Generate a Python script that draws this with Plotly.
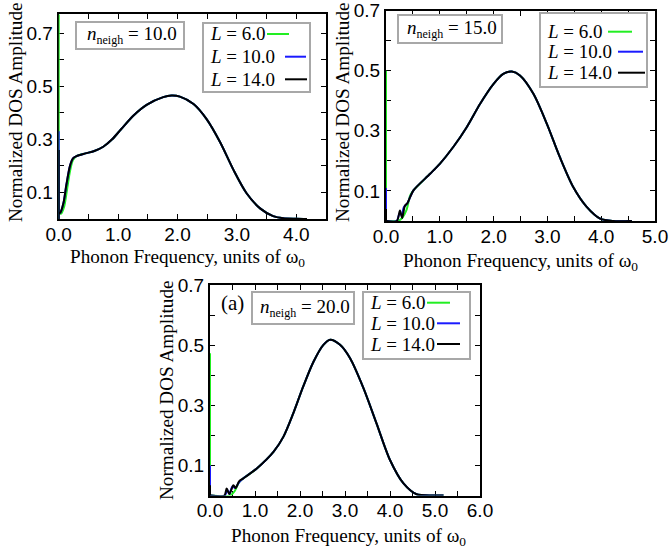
import plotly.graph_objects as go

W, H = 670, 548

L_VALUES = [6.0, 10.0, 14.0]
COLORS = {6.0: "#22ee22", 10.0: "#1a1aff", 14.0: "#000000"}
N_NEIGH = [10.0, 15.0, 20.0]

# ---------------- panel n_neigh = 10 ----------------
p1_spike = {6.0: 0.77, 10.0: 0.33, 14.0: 0.26}
p1_head_x = {6.0: [0.0, 0.04, 0.09, 0.14, 0.19, 0.24],
             10.0: [0.0, 0.03, 0.08, 0.13, 0.19, 0.24],
             14.0: [0.0, 0.03, 0.08, 0.13, 0.19, 0.24]}
p1_head_y = {6.0: [0.02, 0.02, 0.045, 0.11, 0.18, 0.222],
             10.0: [0.02, 0.025, 0.06, 0.13, 0.20, 0.228],
             14.0: [0.02, 0.025, 0.06, 0.13, 0.20, 0.228]}
p1_x = [0.30, 0.45, 0.60, 0.75, 0.90, 1.05, 1.26, 1.48, 1.76, 1.90, 2.04, 2.27,
        2.49, 2.72, 2.94, 3.16, 3.39, 3.61, 3.78, 4.00, 4.18]
p1_y = [0.237, 0.247, 0.256, 0.272, 0.300, 0.338, 0.390, 0.430, 0.459, 0.465,
        0.461, 0.433, 0.376, 0.288, 0.186, 0.098, 0.040, 0.011, 0.003, 0.001, 0.000]

# ---------------- panel n_neigh = 15 ----------------
p2_spike = {6.0: 0.50, 10.0: 0.11, 14.0: 0.04}
p2_head_x = {6.0: [0.0, 0.22, 0.30, 0.38, 0.45],
             10.0: [0.0, 0.20, 0.25, 0.29, 0.33, 0.40, 0.45],
             14.0: [0.0, 0.20, 0.26, 0.30, 0.35, 0.40, 0.45]}
p2_head_y = {6.0: [0.0, 0.0, 0.010, 0.036, 0.085],
             10.0: [0.0, 0.0, 0.025, 0.020, 0.045, 0.060, 0.080],
             14.0: [0.0, 0.0, 0.035, 0.010, 0.050, 0.060, 0.080]}
p2_x = [0.51, 0.82, 1.00, 1.25, 1.50, 1.75, 2.00, 2.18, 2.34, 2.49, 2.74, 2.99,
        3.23, 3.48, 3.73, 3.98, 4.22, 4.57]
p2_y = [0.102, 0.157, 0.190, 0.246, 0.312, 0.390, 0.456, 0.489, 0.497, 0.484,
        0.423, 0.323, 0.213, 0.113, 0.047, 0.008, 0.000, 0.000]

# ---------------- panel n_neigh = 20 ----------------
p3_spike = {6.0: 0.473, 10.0: 0.10, 14.0: 0.034}
p3_head_x = {6.0: [0.0, 0.45, 0.55, 0.63, 0.70],
             10.0: [0.0, 0.33, 0.38, 0.43, 0.50, 0.56, 0.65],
             14.0: [0.0, 0.32, 0.37, 0.43, 0.52, 0.57, 0.65]}
p3_head_y = {6.0: [0.0, 0.0, 0.015, 0.040, 0.052],
             10.0: [0.0, 0.0, 0.020, 0.005, 0.030, 0.025, 0.045],
             14.0: [0.0, 0.0, 0.023, 0.005, 0.034, 0.025, 0.048]}
p3_x = [0.74, 1.04, 1.41, 1.63, 1.85, 2.07, 2.30, 2.52, 2.67, 2.89, 3.11, 3.41,
        3.70, 4.00, 4.30, 4.59, 4.96, 5.19]
p3_y = [0.057, 0.090, 0.145, 0.195, 0.273, 0.362, 0.445, 0.501, 0.518, 0.501,
        0.457, 0.357, 0.240, 0.118, 0.040, 0.004, 0.000, 0.000]

X_MAX = [4.5, 5.0, 6.0]
Y_MAX = [0.772, 0.7, 0.7]
Y_TICKS = [0.1, 0.3, 0.5, 0.7]
Y_TICKTEXT = ["0.1", "0.3", "0.5", "0.7"]

# panel frames in pixels: (left, top, right, bottom)
FRAMES = [(58.7, 14.0, 326.0, 219.0),
          (386.0, 10.5, 655.0, 221.0),
          (210.0, 285.0, 480.0, 495.5)]

panels = [
    (p1_spike, p1_head_x, p1_head_y, p1_x, p1_y),
    (p2_spike, p2_head_x, p2_head_y, p2_x, p2_y),
    (p3_spike, p3_head_x, p3_head_y, p3_x, p3_y),
]


def px(x):
    return x / W


def py(y):
    return 1 - y / H


fig = go.Figure()
for i, (spike, hx, hy, bx, by) in enumerate(panels):
    xa = "x" if i == 0 else f"x{i+1}"
    ya = "y" if i == 0 else f"y{i+1}"
    for L in L_VALUES:
        fig.add_trace(go.Scatter(x=[0.0, 0.0], y=[0.0, spike[L]], mode="lines",
                                 line=dict(color=COLORS[L], width=2),
                                 xaxis=xa, yaxis=ya, showlegend=False,
                                 cliponaxis=False))
        fig.add_trace(go.Scatter(x=hx[L] + bx, y=hy[L] + by, mode="lines",
                                 line=dict(color=COLORS[L], width=2,
                                           shape="spline", smoothing=0.8),
                                 xaxis=xa, yaxis=ya, showlegend=False))

layout = dict(width=W, height=H, margin=dict(l=0, r=0, t=0, b=0),
              plot_bgcolor="white", paper_bgcolor="white", showlegend=False)

tickfont = dict(family="Liberation Sans", size=19, color="black")
minor_style = dict(ticks="inside", ticklen=5, tickwidth=1, tickcolor="black",
                   showgrid=False)
for i in range(3):
    l, t, r, b = FRAMES[i]
    xmax = X_MAX[i]
    xt = list(range(int(xmax) + 1))
    xtt = [f"{v:.1f}" for v in xt]
    sx = "" if i == 0 else str(i + 1)
    layout["xaxis" + sx] = dict(
        domain=[px(l), px(r)], range=[0, xmax], anchor="y" + sx,
        tickvals=xt, ticktext=xtt, ticks="inside", ticklen=5, tickwidth=1,
        tickcolor="black", showline=True, linecolor="black", linewidth=2,
        mirror="allticks", showgrid=False, zeroline=False, tickfont=tickfont,
        minor=dict(tick0=0, dtick=0.5, **minor_style), ticklabelstandoff=-3,
        automargin=False, layer="below traces")
    layout["yaxis" + sx] = dict(
        domain=[py(b), py(t)], range=[0, Y_MAX[i]], anchor="x" + sx,
        tickvals=Y_TICKS, ticktext=Y_TICKTEXT,
        ticks="inside", ticklen=5,
        tickwidth=1, tickcolor="black", showline=True, linecolor="black",
        linewidth=2, mirror="allticks", showgrid=False, zeroline=False,
        minor=dict(tick0=0, dtick=0.1, **minor_style),
        tickfont=tickfont, automargin=False, layer="below traces")

fig.update_layout(**layout)

serif = "Liberation Serif"
ann = []
shapes = []

# axis titles
XT_POS = [(187, 258), (520, 262), (348, 537)]
YT_POS = [(16, 112), (343, 112), (166, 390)]
for i in range(3):
    ann.append(dict(x=px(XT_POS[i][0]), y=py(XT_POS[i][1]), xref="paper", yref="paper",
                    text="Phonon Frequency, units of ω<sub>0</sub>", showarrow=False,
                    xanchor="center", yanchor="middle",
                    font=dict(family=serif, size=19.2, color="black")))
    ann.append(dict(x=px(YT_POS[i][0]), y=py(YT_POS[i][1]), xref="paper", yref="paper",
                    text="Normalized DOS Amplitude", showarrow=False, textangle=-90,
                    xanchor="center", yanchor="middle",
                    font=dict(family=serif, size=19.2, color="black")))

# n_neigh boxes: (left, top, right, bottom)
NB = [(76, 22, 184, 49), (398, 15, 502, 43), (252, 292, 354, 324)]
# L legend boxes
LB = [(203, 23, 310, 92), (540, 13, 647, 87), (363, 292, 470, 359)]
# L legend rows: y of rows, x of text start, line segments per L
L_ROWS = [(34, 56.7, 79.3), (31.7, 51.7, 72.7), (302.7, 323.3, 344)]
L_TEXT_X = [208, 545, 368]
L_LINE_X = [[(267, 289), (285, 306), (285, 307)],
            [(608, 632), (618, 643), (618, 645)],
            [(427, 450), (437, 460), (437, 460)]]
boxstyle = dict(color="#a8a8a8", width=2)

for i in range(3):
    l, t, r, b = NB[i]
    shapes.append(dict(type="rect", xref="paper", yref="paper", x0=px(l), x1=px(r),
                       y0=py(b), y1=py(t), line=boxstyle, fillcolor="white", layer="above"))
    ann.append(dict(x=px((l + r) / 2 + 2), y=py((t + b) / 2), xref="paper", yref="paper",
                    text=f"<i>n</i><sub><span style='font-size:12px'>neigh</span></sub> = {N_NEIGH[i]:.1f}",
                    showarrow=False, xanchor="center", yanchor="middle",
                    font=dict(family=serif, size=19, color="black")))
    l, t, r, b = LB[i]
    shapes.append(dict(type="rect", xref="paper", yref="paper", x0=px(l), x1=px(r),
                       y0=py(b), y1=py(t), line=boxstyle, fillcolor="white", layer="above"))
    for j, L in enumerate(L_VALUES):
        yy = L_ROWS[i][j]
        ann.append(dict(x=px(L_TEXT_X[i]), y=py(yy), xref="paper", yref="paper",
                        text=f"<i>L</i> = {L:.1f}", showarrow=False,
                        xanchor="left", yanchor="middle",
                        font=dict(family=serif, size=19, color="black")))
        x0, x1 = L_LINE_X[i][j]
        shapes.append(dict(type="line", xref="paper", yref="paper", x0=px(x0), x1=px(x1),
                           y0=py(yy), y1=py(yy), line=dict(color=COLORS[L], width=2),
                           layer="above"))

ann.append(dict(x=px(232), y=py(303), xref="paper", yref="paper", text="(a)",
                showarrow=False, xanchor="center", yanchor="middle",
                font=dict(family=serif, size=21, color="black")))

fig.update_layout(annotations=ann, shapes=shapes)
fig.write_html("out.html")
